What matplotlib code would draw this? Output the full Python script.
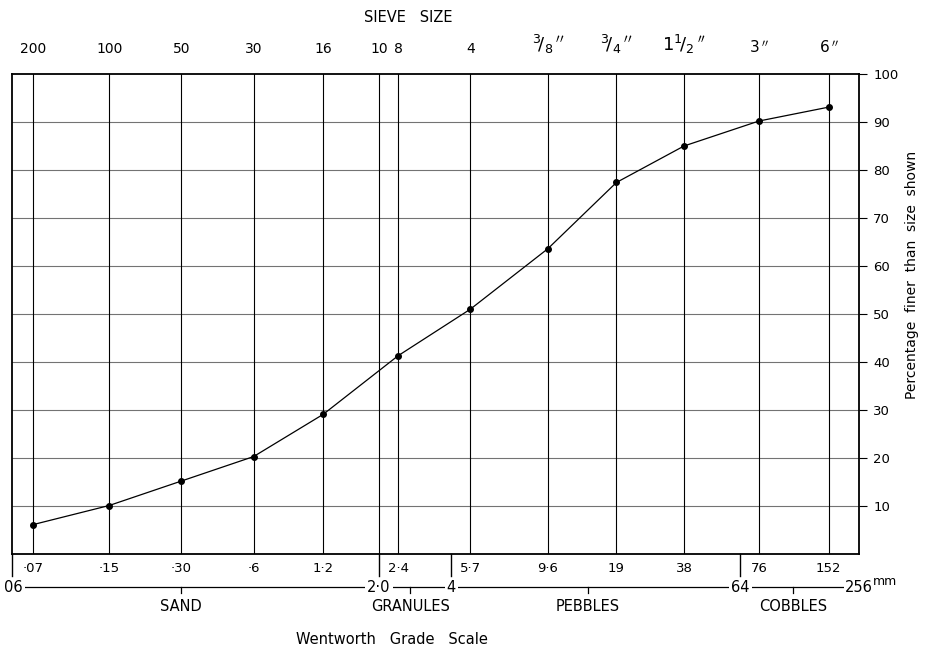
import matplotlib
matplotlib.use("Agg")
import matplotlib.pyplot as plt
from matplotlib.transforms import blended_transform_factory
from matplotlib.ticker import NullLocator

plt.rcParams['font.family'] = ['DejaVu Sans']
plt.rcParams['mathtext.fontset'] = 'dejavusans'

# ---- data ----
sieve_mm = [0.072, 0.15, 0.30, 0.60, 1.17, 2.0, 2.4, 4.8, 10.1, 19.5, 37.3, 76.5, 149.5]
sieve_labels = ["200", "100", "50", "30", "16", "10", "8", "4",
                r"$^{3}\!/_{8}\,^{\prime\prime}$", r"$^{3}\!/_{4}\,^{\prime\prime}$",
                r"$1^{1}\!/_{2}\,^{\prime\prime}$", r"$3\,^{\prime\prime}$", r"$6\,^{\prime\prime}$"]
point_mm = [0.072, 0.15, 0.30, 0.60, 1.17, 2.4, 4.8, 10.1, 19.5, 37.3, 76.5, 149.5]
point_pct = [6.1, 10.1, 15.2, 20.3, 29.1, 41.3, 51.0, 63.6, 77.4, 85.0, 90.2, 93.1]
mm_labels = ["·07", "·15", "·30", "·6", "1·2", "2·4", "5·7", "9·6", "19", "38", "76", "152"]
pct_ticks = [10, 20, 30, 40, 50, 60, 70, 80, 90, 100]
grade_bounds = [0.06, 2.0, 4.0, 64.0, 256.0]
grade_bound_labels = ["06", "2·0", "4", "64", "256"]
grade_names = ["SAND", "GRANULES", "PEBBLES", "COBBLES"]
grade_centers = [0.30, 2.7, 14.8, 106.0]
tick_bounds = [2.0, 4.0, 64.0]

W, H = 931, 647
fig = plt.figure(figsize=(W / 100, H / 100), dpi=100)
ax = fig.add_axes([11.7 / W, 1 - 554 / H, (859.3 - 11.7) / W, (554 - 74) / H])
ax.set_xscale('log')
ax.set_xlim(0.0589, 200.5)
ax.set_ylim(0, 100)

for s in ax.spines.values():
    s.set_linewidth(1.3)
    s.set_color('black')

# grid
for v in pct_ticks[:-1]:
    ax.axhline(v, color='0.45', lw=0.8, zorder=1)
for x in sieve_mm:
    ax.axvline(x, color='black', lw=0.8, zorder=1)

# curve
ax.plot(point_mm, point_pct, color='black', lw=0.9, marker='o', ms=4, zorder=3)

# top sieve labels
ax.xaxis.set_minor_locator(NullLocator())
ax.set_xticks(sieve_mm)
ax.set_xticklabels(sieve_labels)
ax.tick_params(axis='x', which='both', bottom=False, top=False,
               labelbottom=False, labeltop=True, length=0, pad=13, labelsize=10)
for lbl in ax.get_xticklabels()[8:11]:
    lbl.set_fontsize(13)
for lbl in ax.get_xticklabels()[11:]:
    lbl.set_fontsize(11)

# right percentage axis
ax.yaxis.tick_right()
ax.set_yticks(pct_ticks)
ax.set_yticklabels([str(v) for v in pct_ticks])
ax.tick_params(axis='y', which='both', left=False, right=True, direction='out',
               length=6, width=0.8, pad=4, labelsize=9.5)

trans = blended_transform_factory(ax.transData, ax.transAxes)

# bottom mm labels
for x, l in zip(point_mm, mm_labels):
    ax.text(x, -0.03, l, transform=trans, ha='center', va='center', fontsize=9.5)

# boundary ticks below the axis
for b in [ax.get_xlim()[0]] + tick_bounds:
    ax.plot([b, b], [0, -0.045], transform=trans, clip_on=False, color='black', lw=1.0)

# Wentworth scale line
yl = -0.069
ax.plot([grade_bounds[0], grade_bounds[-1]], [yl, yl], transform=trans,
        clip_on=False, color='black', lw=0.9)
for c in grade_centers:
    ax.plot([c, c], [yl, yl - 0.012], transform=trans, clip_on=False, color='black', lw=0.9)
box = dict(facecolor='white', edgecolor='none', pad=1.5)
for b, l in zip(grade_bounds[:-1], grade_bound_labels[:-1]):
    ax.text(b, yl, l, transform=trans, ha='center', va='center', fontsize=10.5, bbox=box)
ax.annotate("mm", xy=(grade_bounds[-1], yl), xycoords=trans,
            xytext=(-12, 6), textcoords='offset pixels', ha='left', va='center',
            fontsize=9, bbox=dict(facecolor='white', edgecolor='none', pad=3),
            annotation_clip=False)
ax.annotate(grade_bound_labels[-1], xy=(grade_bounds[-1], yl), xycoords=trans,
            xytext=(-26, 0), textcoords='offset pixels', ha='center', va='center',
            fontsize=10.5, bbox=dict(facecolor='white', edgecolor='none', pad=0.5),
            annotation_clip=False)
for c, n in zip(grade_centers, grade_names):
    ax.text(c, -0.11, n, transform=trans, ha='center', va='center', fontsize=10.5)

# titles
fig.text(408 / W, 1 - 17 / H, "SIEVE   SIZE", ha='center', va='center', fontsize=10.5)
fig.text(392 / W, 1 - 640 / H, "Wentworth   Grade   Scale", ha='center', va='center', fontsize=10.5)
fig.text(912 / W, 1 - 275 / H, "Percentage  finer  than  size  shown", rotation=90,
         ha='center', va='center', fontsize=10)

fig.savefig("out.png", dpi=100)
